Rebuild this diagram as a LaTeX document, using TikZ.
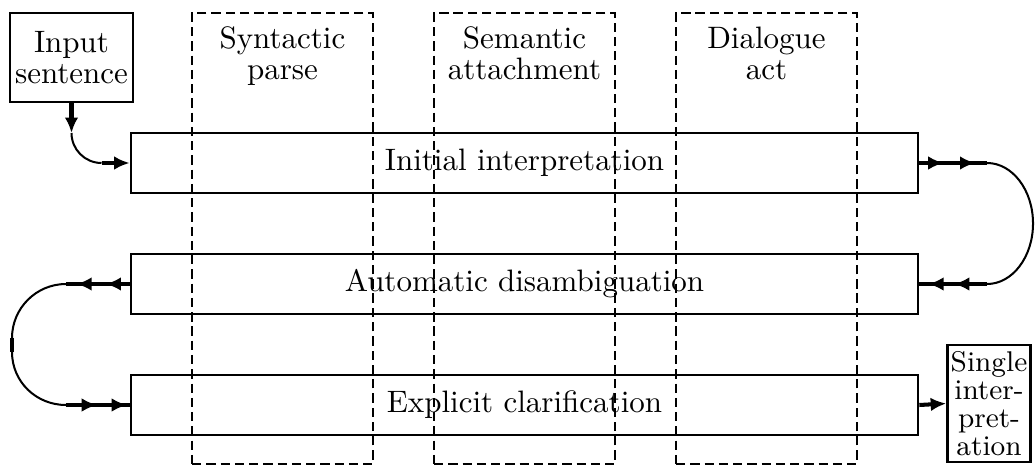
\documentclass[tikz,border=0pt]{standalone}
\usetikzlibrary{arrows.meta,decorations.markings,positioning}
\begin{document}
\begin{tikzpicture}[
    x={(0.3226pt,0pt)},
    y={(0pt,-0.3226pt)},
    every node/.style={font=\fontsize{10}{10}\selectfont, align=center, inner sep=0pt},
    stage/.style={draw, line width=0.85pt, minimum width=787*0.3226pt, minimum height=60*0.3226pt},
    source/.style={draw, line width=0.85pt, minimum width=123*0.3226pt, minimum height=89*0.3226pt},
    result/.style={draw, line width=0.85pt, minimum width=83*0.3226pt, minimum height=117*0.3226pt,
        font=\fontsize{9.2}{9}\selectfont},
    column/.style={draw, line width=0.65pt, dash pattern=on 3pt off 1.6pt,
        minimum width=181*0.3226pt, minimum height=451*0.3226pt},
    flowtip/.tip={Latex[length=5pt,width=4.4pt]},
    thicklink/.style={line width=1.3pt},
    thicklinkend/.style={line width=1.3pt, -flowtip},
    curvelink/.style={line width=0.65pt},
    twoarrows/.style 2 args={line width=1.3pt, postaction={decorate},
        decoration={markings,
            mark=at position #1 with {\arrow{flowtip}},
            mark=at position #2 with {\arrow{flowtip}}}}
]

\useasboundingbox (0,0) rectangle (1035,466);

% Spalten
\node[column] (syn)  at (282.5,238.5) {};
\node[column] (sem)  at (524.5,238.5) {};
\node[column] (dial) at (766.5,238.5) {};

\node[anchor=north] (synname)  at ([yshift=-14*0.3226pt]syn.north)  {Syntactic\\parse};
\node[anchor=north] (semname)  at ([yshift=-14*0.3226pt]sem.north)  {Semantic\\attachment};
\node[anchor=north] (dialname) at ([yshift=-14*0.3226pt]dial.north) {Dialogue\\act};

% Stufen
\node[source] (inp)    at (71.5,57.5)  {Input\\sentence};
\node[stage]  (init)   at (524.5,163)  {Initial interpretation};
\node[stage]  (disamb) at (524.5,284)  {Automatic disambiguation};
\node[stage]  (clarif) at (524.5,405)  {Explicit clarification};
\node[result] (single) at (989,403.5)  {Single\\inter-\\pret-\\ation};

% Hilfspunkte
\coordinate (i1)  at (71.5,133);
\coordinate (i2)  at (101.5,163);
\coordinate (r1)  at (987,163);
\coordinate (rm)  at (1033,223.5);
\coordinate (r2)  at (987,284);
\coordinate (l1)  at (66,284);
\coordinate (lm1) at (12,338);
\coordinate (lm2) at (12,352);
\coordinate (l2)  at (66,405);

% Eingabe
\draw[thicklinkend] (inp.south) -- (i1);
\draw[curvelink] (i1) .. controls +(0,16.5) and +(-16.5,0) .. (i2);
\draw[thicklinkend] (i2) -- (init.west);

% rechts
\draw[twoarrows={0.36}{0.83}] (init.east) -- (r1);
\draw[curvelink] (r1) .. controls +(25.4,0) and +(0,-33.4) .. (rm)
                      .. controls +(0,33.4) and +(25.4,0) .. (r2);
\draw[twoarrows={0.49}{0.87}] (r2) -- (disamb.east);

% links
\draw[twoarrows={0.38}{0.84}] (disamb.west) -- (l1);
\draw[curvelink] (l1) .. controls +(-29.8,0) and +(0,-29.8) .. (lm1);
\draw[thicklink] (lm1) -- (lm2);
\draw[curvelink] (lm2) .. controls +(0,29.8) and +(-29.8,0) .. (l2);
\draw[twoarrows={0.49}{0.96}] (l2) -- (clarif.west);

% Ausgabe
\draw[thicklinkend] (clarif.east) -- (single.west);

\end{tikzpicture}
\end{document}
